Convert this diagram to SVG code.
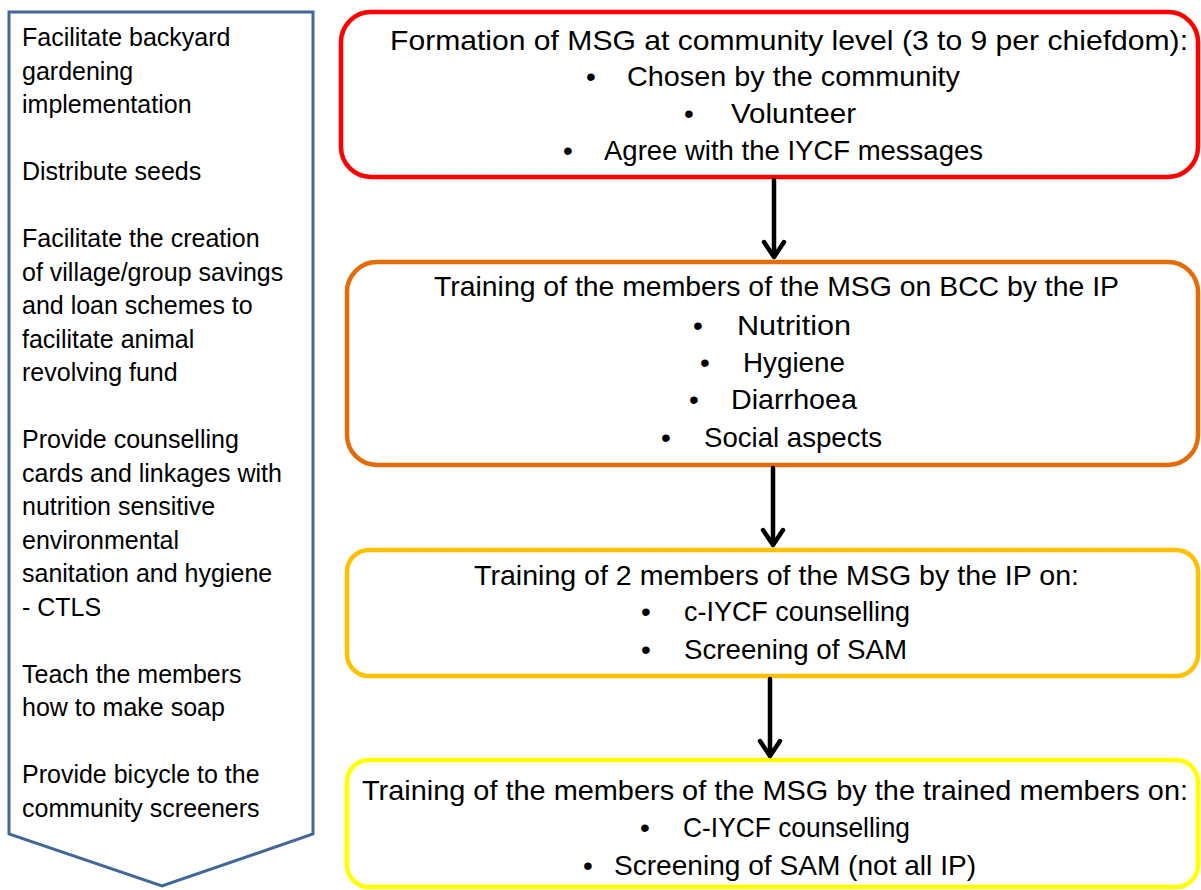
<svg xmlns="http://www.w3.org/2000/svg" width="1201" height="890" viewBox="0 0 1201 890">
<style>
.lt{font-family:"Liberation Sans",Arial,sans-serif;font-size:25px;fill:#000}
.bt{font-family:"Liberation Sans",Arial,sans-serif;font-size:28px;fill:#000}
.hd{text-anchor:middle}
.box{fill:#fff;stroke-width:4.5}
.arr{fill:none;stroke:#000;stroke-width:4.5;stroke-linecap:round;stroke-linejoin:round}
</style>
<rect width="1201" height="890" fill="#fff"/>
<g id="left-panel">
<path d="M9,12 H313 V834 L162,886 L9,834 Z" fill="#fff" stroke="#41679A" stroke-width="3"/>
<text class="lt" x="22" y="46">Facilitate backyard</text>
<text class="lt" x="22" y="79.5">gardening</text>
<text class="lt" x="22" y="113">implementation</text>
<text class="lt" x="22" y="180">Distribute seeds</text>
<text class="lt" x="22" y="247">Facilitate the creation</text>
<text class="lt" x="22" y="280.5">of village/group savings</text>
<text class="lt" x="22" y="314">and loan schemes to</text>
<text class="lt" x="22" y="347.5">facilitate animal</text>
<text class="lt" x="22" y="381">revolving fund</text>
<text class="lt" x="22" y="448">Provide counselling</text>
<text class="lt" x="22" y="481.5">cards and linkages with</text>
<text class="lt" x="22" y="515">nutrition sensitive</text>
<text class="lt" x="22" y="548.5">environmental</text>
<text class="lt" x="22" y="582">sanitation and hygiene</text>
<text class="lt" x="22" y="615.5">- CTLS</text>
<text class="lt" x="22" y="682.5">Teach the members</text>
<text class="lt" x="22" y="716">how to make soap</text>
<text class="lt" x="22" y="783">Provide bicycle to the</text>
<text class="lt" x="22" y="816.5">community screeners</text>
</g>
<g id="box1">
<rect class="box" x="341" y="12" width="857" height="165" rx="30" stroke="#FF0000"/>
<text class="bt" x="390" y="50" textLength="798" lengthAdjust="spacingAndGlyphs">Formation of MSG at community level (3 to 9 per chiefdom):</text>
<text class="bt" x="586" y="86">•</text><text class="bt" x="627" y="86" textLength="333" lengthAdjust="spacingAndGlyphs">Chosen by the community</text>
<text class="bt" x="684" y="123">•</text><text class="bt" x="731" y="123" textLength="125" lengthAdjust="spacingAndGlyphs">Volunteer</text>
<text class="bt" x="563" y="160">•</text><text class="bt" x="604" y="160" textLength="379" lengthAdjust="spacingAndGlyphs">Agree with the IYCF messages</text>
</g>
<g id="box2">
<rect class="box" x="347" y="262" width="851" height="203" rx="30" stroke="#E36C09"/>
<text class="bt" x="434" y="296" textLength="685" lengthAdjust="spacingAndGlyphs">Training of the members of the MSG on BCC by the IP</text>
<text class="bt" x="693" y="335">•</text><text class="bt" x="737" y="335" textLength="114" lengthAdjust="spacingAndGlyphs">Nutrition</text>
<text class="bt" x="700" y="372">•</text><text class="bt" x="743" y="372" textLength="102" lengthAdjust="spacingAndGlyphs">Hygiene</text>
<text class="bt" x="689" y="409">•</text><text class="bt" x="731" y="409" textLength="126" lengthAdjust="spacingAndGlyphs">Diarrhoea</text>
<text class="bt" x="661" y="447">•</text><text class="bt" x="704" y="447" textLength="178" lengthAdjust="spacingAndGlyphs">Social aspects</text>
</g>
<g id="box3">
<rect class="box" x="347" y="550" width="851" height="126" rx="22" stroke="#FFC000"/>
<text class="bt" x="474" y="585" textLength="605" lengthAdjust="spacingAndGlyphs">Training of 2 members of the MSG by the IP on:</text>
<text class="bt" x="641" y="621">•</text><text class="bt" x="684" y="621" textLength="226" lengthAdjust="spacingAndGlyphs">c-IYCF counselling</text>
<text class="bt" x="641" y="659">•</text><text class="bt" x="684" y="659" textLength="223" lengthAdjust="spacingAndGlyphs">Screening of SAM</text>
</g>
<g id="box4">
<rect class="box" x="347" y="760" width="851" height="127" rx="22" stroke="#FFFF00"/>
<text class="bt" x="362" y="800" textLength="826" lengthAdjust="spacingAndGlyphs">Training of the members of the MSG by the trained members on:</text>
<text class="bt" x="640" y="837">•</text><text class="bt" x="683" y="837" textLength="227" lengthAdjust="spacingAndGlyphs">C-IYCF counselling</text>
<text class="bt" x="583" y="875">•</text><text class="bt" x="614" y="875" textLength="362" lengthAdjust="spacingAndGlyphs">Screening of SAM (not all IP)</text>
</g>
<g id="connectors">
<path class="arr" d="M774,180 V257 M764,242 L774,257 L784,242"/>
<path class="arr" d="M773,468 V545 M763,530 L773,545 L783,530"/>
<path class="arr" d="M770,679 V756 M760,741 L770,756 L780,741"/>
</g>
</svg>
